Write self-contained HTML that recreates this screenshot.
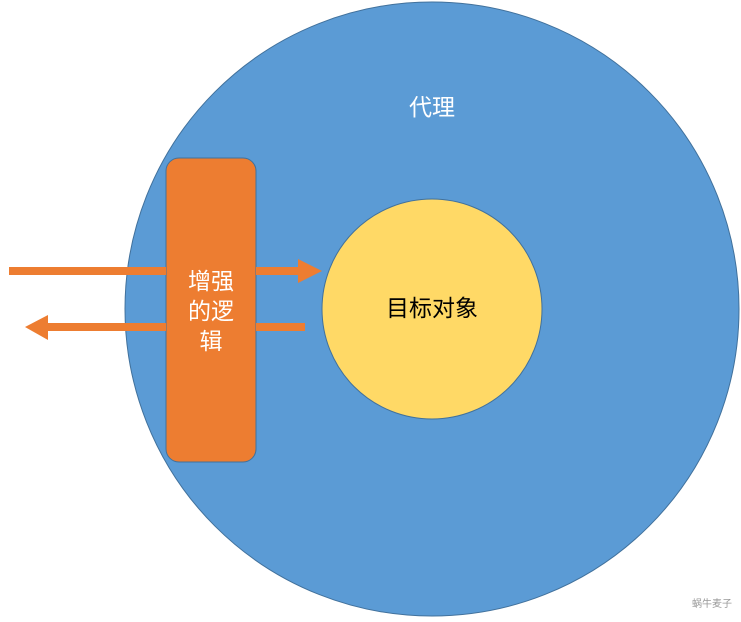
<!DOCTYPE html>
<html><head><meta charset="utf-8"><style>
body{margin:0;width:741px;height:617px;background:#fff;overflow:hidden}
</style></head><body>
<svg width="741" height="617" xmlns="http://www.w3.org/2000/svg" style="font-family:'Liberation Sans','Noto Sans CJK SC',sans-serif">
<circle cx="432" cy="309" r="307" fill="#5b9bd5" stroke="#41719c" stroke-width="1"/>
<circle cx="432" cy="309" r="110" fill="#ffd966" stroke="#41719c" stroke-width="1"/>
<rect x="166" y="158" width="90" height="304" rx="13" fill="#ed7d31" stroke="#41719c" stroke-width="1"/>
<rect x="9" y="267" width="157" height="8" fill="#ed7d31"/>
<rect x="256" y="267" width="43" height="8" fill="#ed7d31"/>
<polygon points="298,259 322,271 298,283" fill="#ed7d31"/>
<rect x="256" y="323" width="49" height="8" fill="#ed7d31"/>
<rect x="47" y="323" width="119" height="8" fill="#ed7d31"/>
<polygon points="48,315 25,327 48,340" fill="#ed7d31"/>
<text x="432" y="115" font-size="23" fill="#fff" text-anchor="middle">代理</text>
<text x="432" y="316" font-size="23" fill="#000" text-anchor="middle">目标对象</text>
<text x="211" y="289" font-size="23" fill="#fff" text-anchor="middle">增强</text>
<text x="211" y="319" font-size="23" fill="#fff" text-anchor="middle">的逻</text>
<text x="211" y="349" font-size="23" fill="#fff" text-anchor="middle">辑</text>
<text x="712" y="607" font-size="10" fill="#999" text-anchor="middle">蜗牛麦子</text>
</svg>
</body></html>
